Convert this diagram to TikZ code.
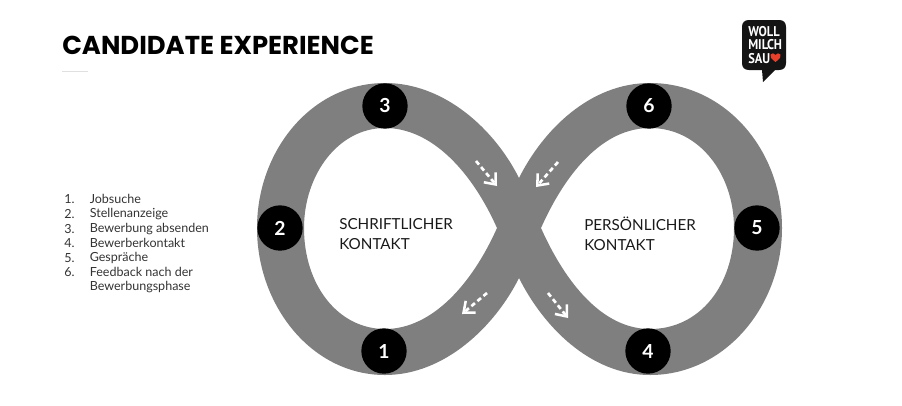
\documentclass[tikz,border=0pt]{standalone}
\usepackage{fontspec}
\setmainfont{Lato}
\newfontfamily\titlefont{Poppins}
\newfontfamily\logofont{PT Sans}
\usetikzlibrary{arrows.meta}
\definecolor{band}{HTML}{7F7F7F}
\definecolor{heartred}{HTML}{E8402A}
\tikzset{
  px/.style={x=0.75pt,y=-0.75pt},
  numdot/.style={circle,fill=black,minimum size=34pt,inner sep=0pt,text=white,font=\fontsize{14.5}{15}\selectfont\bfseries},
  flow/.style={white,line width=2pt,dash pattern=on 3.5pt off 2.4pt,-{Straight Barb[length=7pt,width=11.5pt,line width=1.9pt]}},
  lbl/.style={anchor=west,align=left,font=\fontsize{11.4}{15}\selectfont,text=black!90},
  lst/.style={anchor=west,font=\fontsize{9.4}{11}\selectfont,text=black!80,inner sep=0pt},
  logotxt/.style={anchor=west,text=white,inner sep=0pt,font=\logofont\bfseries\fontsize{10.6}{11}\selectfont}
}
\begin{document}
\begin{tikzpicture}[px]
\useasboundingbox (0,0) rectangle (902,405);
% figure-eight band
\fill[band,even odd rule]
  (519,178) .. controls (495,130) and (445,83) .. (385,83)
  .. controls (312,83) and (257,150) .. (257,228)
  .. controls (257,306) and (312,375) .. (385,375)
  .. controls (445,375) and (495,326) .. (519,278)
  .. controls (543,326) and (590,375) .. (650,375)
  .. controls (725,375) and (782,306) .. (782,228)
  .. controls (782,150) and (725,83) .. (650,83)
  .. controls (590,83) and (543,130) .. (519,178) -- cycle
  (497,228) .. controls (472,172) and (432,128) .. (385,128)
  .. controls (338,128) and (304,175) .. (304,228)
  .. controls (304,285) and (338,329) .. (385,329)
  .. controls (432,329) and (472,284) .. (497,228) -- cycle
  (541,228) .. controls (566,172) and (603,128) .. (650,128)
  .. controls (700,128) and (734,175) .. (734,228)
  .. controls (734,285) and (700,329) .. (650,329)
  .. controls (603,329) and (566,284) .. (541,228) -- cycle;
% numbered stations
\node[numdot] (n1) at (384,351) {1};
\node[numdot] (n2) at (280,228) {2};
\node[numdot] (n3) at (385,106) {3};
\node[numdot] (n4) at (648,351) {4};
\node[numdot] (n5) at (757,228) {5};
\node[numdot] (n6) at (649,106) {6};
% flow arrows
\coordinate (a1s) at (476,161); \coordinate (a1e) at (497,186);
\coordinate (a2s) at (558,162); \coordinate (a2e) at (536,187);
\coordinate (a3s) at (487,293); \coordinate (a3e) at (462,314);
\coordinate (a4s) at (548,293); \coordinate (a4e) at (568,318);
\draw[flow] (a1s) -- (a1e);
\draw[flow] (a2s) -- (a2e);
\draw[flow] (a3s) -- (a3e);
\draw[flow] (a4s) -- (a4e);
% labels
\node[lbl,inner sep=0pt] (sk) at (339,234.5) {SCHRIFTLICHER\\KONTAKT};
\node[lbl,inner sep=0pt] (pk) at (584,233.5) {PERSÖNLICHER\\KONTAKT};
% title
\node[anchor=west,inner sep=0pt,font=\titlefont\bfseries\fontsize{19.4}{20}\selectfont] (title) at (62,45) {CANDIDATE EXPERIENCE};
\coordinate (ruleA) at (62,71); \coordinate (ruleB) at (88,71);
\draw[black!12,line width=0.5pt] (ruleA) -- (ruleB);
% list
\node[lst] (l1) at (64,199) {1.};  \node[lst] (t1) at (89.5,199) {Jobsuche};
\node[lst] (l2) at (64,214) {2.};  \node[lst] (t2) at (89.5,214) {Stellenanzeige};
\node[lst] (l3) at (64,229) {3.};  \node[lst] (t3) at (89.5,229) {Bewerbung absenden};
\node[lst] (l4) at (64,243) {4.};  \node[lst] (t4) at (89.5,243) {Bewerberkontakt};
\node[lst] (l5) at (64,258) {5.};  \node[lst] (t5) at (89.5,258) {Gespräche};
\node[lst] (l6) at (64,272) {6.};  \node[lst] (t6) at (89.5,272) {Feedback nach der};
\node[lst] (t7) at (89.5,287) {Bewerbungsphase};
% logo
\fill[black!92] (749,20) -- (779,20) .. controls (783.5,20) and (786,22.5) .. (786,27)
  -- (786,63) .. controls (786,67.5) and (783.5,70) .. (779,70) -- (775,70) -- (763,82) -- (762,70)
  -- (749,70) .. controls (744.5,70) and (742,67.5) .. (742,63) -- (742,27)
  .. controls (742,22.5) and (744.5,20) .. (749,20) -- cycle;
\node[logotxt] (lg1) at (748,32) {\scalebox{0.88}[1]{WOLL}};
\node[logotxt] (lg2) at (748,45) {\scalebox{0.88}[1]{MILCH}};
\node[logotxt] (lg3) at (748,58.5) {\scalebox{0.88}[1]{SAU}};
\fill[heartred] (775.5,62) .. controls (771,58.5) and (769.5,56.5) .. (770.5,54.5)
  .. controls (771.5,52.5) and (774.5,53) .. (775.5,55)
  .. controls (776.5,53) and (779.5,52.5) .. (780.5,54.5)
  .. controls (781.5,56.5) and (780,58.5) .. (775.5,62) -- cycle;
\end{tikzpicture}
\end{document}
